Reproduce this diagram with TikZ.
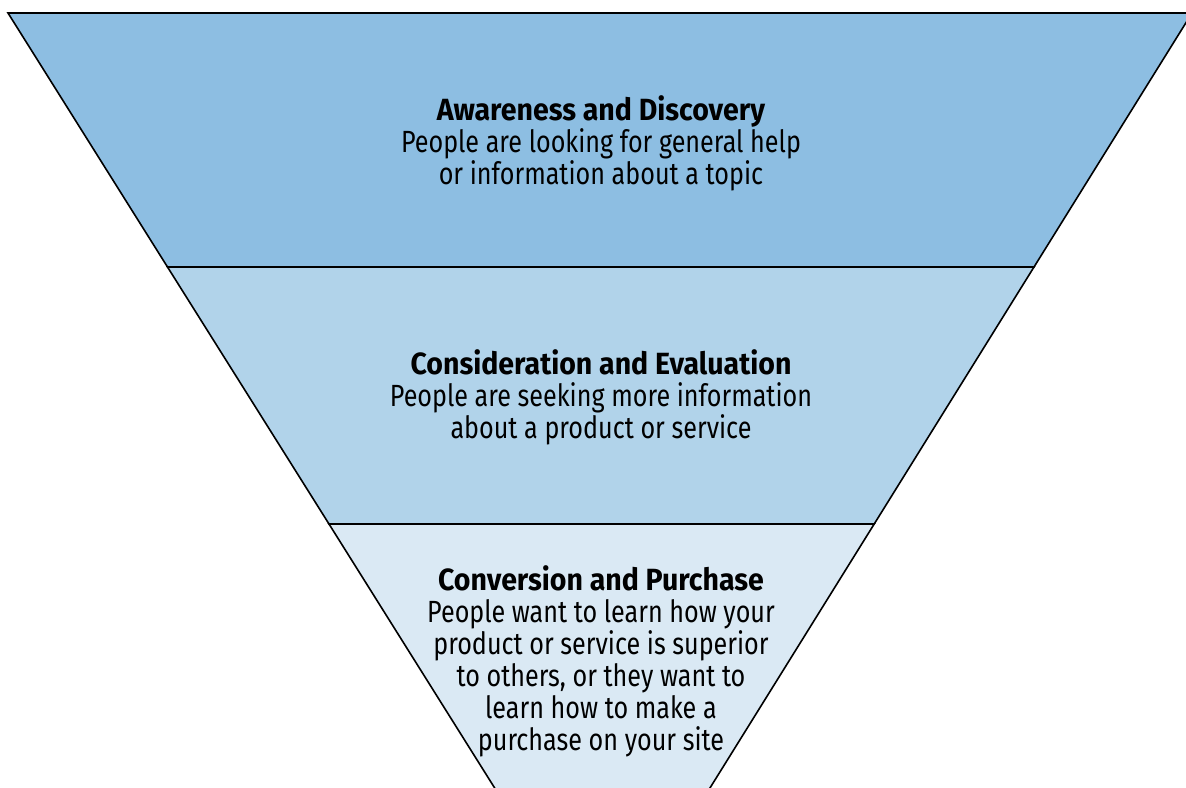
\documentclass[tikz,border=0pt]{standalone}
\usepackage{fontspec}
\setmainfont{Fira Sans}[UprightFeatures={FakeStretch=0.82},BoldFeatures={FakeStretch=0.93}]
\definecolor{topband}{RGB}{141,190,226}
\definecolor{midband}{RGB}{177,211,234}
\definecolor{lowband}{RGB}{218,233,244}

\begin{document}
\begin{tikzpicture}[x=0.75pt,y=0.75pt,yscale=-1,line join=miter]
	\tikzstyle{band1}=[line width=1.2pt,draw=black,fill=topband];
	\tikzstyle{band2}=[line width=1.2pt,draw=black,fill=midband];
	\tikzstyle{band3}=[line width=1.2pt,draw=black,fill=lowband];
	\tikzstyle{stage}=[align=center,anchor=north,inner sep=0pt,font=\fontsize{23}{24}\selectfont];

	\useasboundingbox (0,0) rectangle (1186,788);
	\clip (0,0) rectangle (1186,788);
	\draw[band1] (8,13) -- (1192,13) -- (1034,267) -- (167.5,267) -- cycle;
	\draw[band2] (167.5,267) -- (1034,267) -- (874.2,524) -- (329,524) -- cycle;
	\draw[band3] (329,524) -- (874.2,524) -- (702.5,800) -- (502.2,800) -- cycle;
	\node[stage] (awareness) at (601,95) {\textbf{Awareness and Discovery}\\People are looking for general help\\or information about a topic};
	\node[stage] (consideration) at (601,349) {\textbf{Consideration and Evaluation}\\People are seeking more information\\about a product or service};
	\node[stage] (conversion) at (601,565) {\textbf{Conversion and Purchase}\\People want to learn how your\\product or service is superior\\to others, or they want to\\learn how to make a\\purchase on your site};
\end{tikzpicture}
\end{document}
